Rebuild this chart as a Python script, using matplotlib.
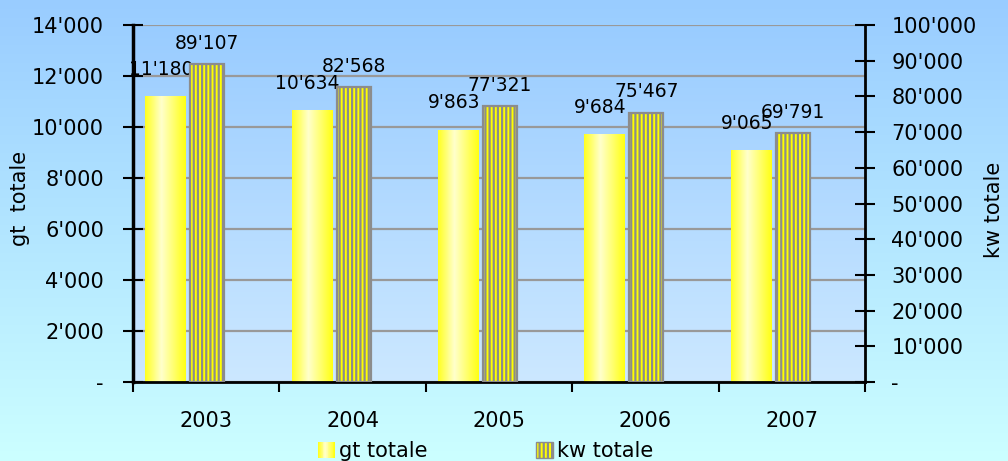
import numpy as np
import matplotlib
matplotlib.use('Agg')
from matplotlib import pyplot as plt
from matplotlib.colors import LinearSegmentedColormap
from matplotlib.patches import Patch, Rectangle
from matplotlib.legend_handler import HandlerBase
from matplotlib.ticker import FuncFormatter, MultipleLocator

years = ['2003', '2004', '2005', '2006', '2007']
gt_totale = [11180, 10634, 9863, 9684, 9065]
kw_totale = [89107, 82568, 77321, 75467, 69791]

plt.rcParams['font.family'] = ['DejaVu Sans']
plt.rcParams['hatch.linewidth'] = 1.6

barCmap = LinearSegmentedColormap.from_list(
    'gtbar', [(0.0, '#FFFF22'), (0.4, '#FFFFCC'), (1.0, '#FFFF14')])
figCmap = LinearSegmentedColormap.from_list('figbg', ['#CCFFFF', '#99CCFF'])
axCmap = LinearSegmentedColormap.from_list('axbg', ['#CCE8FF', '#99CCFF'])


def swissFormat(v, pos=None):
    if v == 0:
        return '-'
    return '{:,.0f}'.format(v).replace(',', "'")


class GradientHandler(HandlerBase):
    def create_artists(self, legend, orig_handle, xdescent, ydescent,
                       width, height, fontsize, trans):
        n = 20
        artists = []
        for i in range(n):
            r = Rectangle((-xdescent + width * i / n, -ydescent),
                          width / n + 0.2, height,
                          facecolor=barCmap(i / (n - 1)), edgecolor='none',
                          transform=trans)
            artists.append(r)
        return artists


fig = plt.figure(figsize=(10.08, 4.61), dpi=100)

# figure background gradient
bg = fig.add_axes([0, 0, 1, 1], zorder=-10)
bg.imshow(np.linspace(0, 1, 256).reshape(-1, 1)[::-1], aspect='auto',
          cmap=figCmap, extent=[0, 1, 0, 1])
bg.axis('off')

ax = fig.add_axes([0.132, 0.171, 0.726, 0.775])
ax.set_facecolor('none')
ax.imshow(np.linspace(0, 1, 256).reshape(-1, 1)[::-1], aspect='auto',
          cmap=axCmap, extent=[0, 1, 0, 1], transform=ax.transAxes, zorder=0)

x = np.arange(len(years))
gtBars = ax.bar(x - 0.277, gt_totale, width=0.28, color='none', zorder=2)
grad = np.linspace(0, 1, 64).reshape(1, -1)
for b in gtBars:
    x0, w, h = b.get_x(), b.get_width(), b.get_height()
    ax.imshow(grad, aspect='auto', cmap=barCmap,
              extent=[x0, x0 + w, 0, h], zorder=2)
for b, v in zip(gtBars, gt_totale):
    ax.annotate(swissFormat(v), (b.get_x() + b.get_width() / 2 - 0.03, v),
                xytext=(0, 13), textcoords='offset points',
                ha='center', va='bottom', fontsize=13.5, zorder=5)

ax.set_xlim(-0.5, len(years) - 0.5)
ax.set_ylim(0, 14000)
ax.yaxis.set_major_locator(MultipleLocator(2000))
ax.yaxis.set_major_formatter(FuncFormatter(swissFormat))
ax.yaxis.grid(True, color='#999999', linewidth=1.6)
ax.set_axisbelow(True)

ax.set_xticks(x)
ax.set_xticklabels(years)
ax.set_xticks(np.arange(-0.5, len(years)), minor=True)
ax.tick_params(axis='x', which='major', length=0, pad=21, labelsize=15)
ax.tick_params(axis='x', which='minor', length=7, width=1.5,
               direction='out')
ax.tick_params(axis='y', direction='inout', length=14, width=1.5,
               pad=14, labelsize=15)

ax.spines['top'].set_visible(False)
ax.spines['right'].set_visible(False)
ax.spines['left'].set_linewidth(2.5)
ax.spines['bottom'].set_linewidth(2)

ax2 = ax.twinx()
kwBars = ax2.bar(x + 0.007, kw_totale, width=0.233, facecolor='#FFFF00',
                 edgecolor='#8C8C8C', hatch='||||', linewidth=1.6, zorder=2)
for b, v in zip(kwBars, kw_totale):
    ax2.annotate(swissFormat(v), (b.get_x() + b.get_width() / 2, v),
                 xytext=(0, 8), textcoords='offset points',
                 ha='center', va='bottom', fontsize=13.5, zorder=5)
ax2.set_ylim(0, 100000)
ax2.yaxis.set_major_locator(MultipleLocator(10000))
ax2.yaxis.set_major_formatter(FuncFormatter(swissFormat))
ax2.tick_params(axis='y', direction='inout', length=14, width=1.5,
                pad=12, labelsize=15)
ax2.spines['top'].set_visible(False)
ax2.spines['left'].set_visible(False)
ax2.spines['bottom'].set_visible(False)
ax2.spines['right'].set_linewidth(2)

fig.text(20 / 1008, 1 - 198 / 461, 'gt  totale', rotation=90,
         ha='center', va='center', fontsize=15)
fig.text(994 / 1008, 1 - 210 / 461, 'kw totale', rotation=90,
         ha='center', va='center', fontsize=15)

handles = [Patch(label='gt totale'),
           Patch(facecolor='#FFFF00', edgecolor='#8C8C8C', hatch='||||',
                 label='kw totale')]
fig.legend(handles=handles, loc='center', bbox_to_anchor=(0.482, 0.022),
           ncol=2, frameon=False, fontsize=15, columnspacing=5.2,
           handlelength=0.8, handleheight=0.8, handletextpad=0.2,
           handler_map={handles[0]: GradientHandler()})

fig.savefig('out.png', dpi=100)
